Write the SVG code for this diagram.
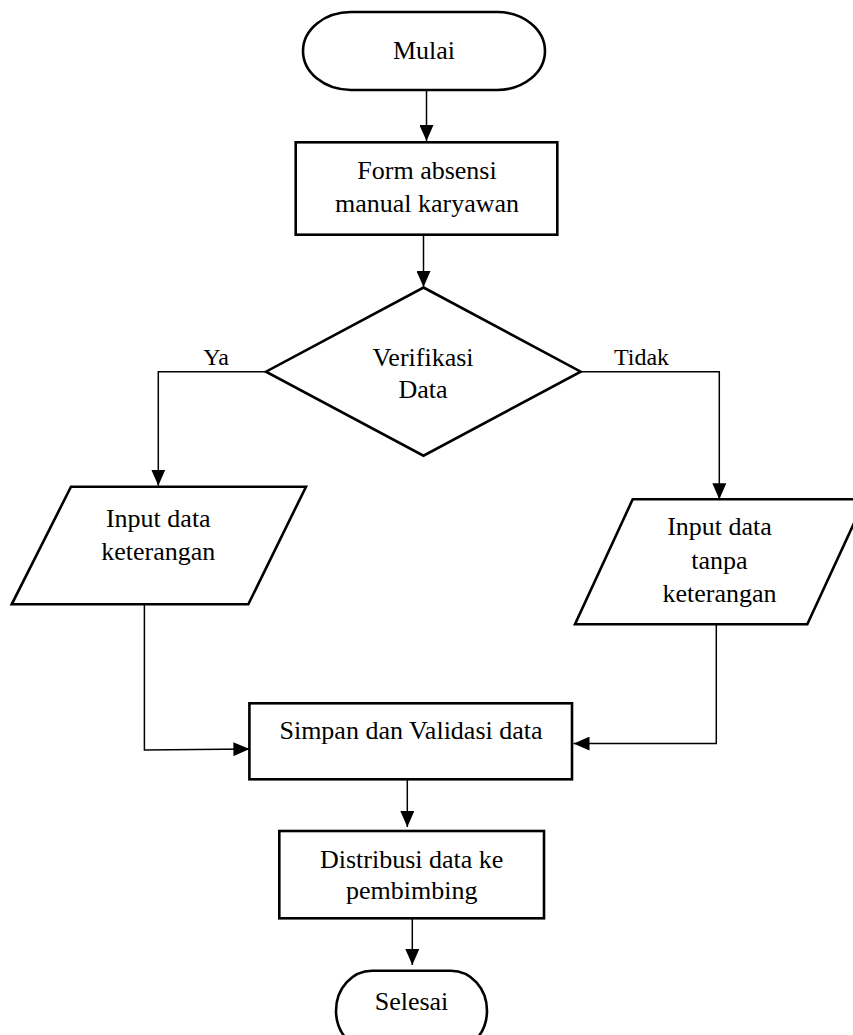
<svg xmlns="http://www.w3.org/2000/svg" width="853" height="1035" viewBox="0 0 853 1035">
<style>
.n{fill:#fff;stroke:#000;stroke-width:2.6}
.c{fill:none;stroke:#000;stroke-width:1.5}
text{font-family:"Liberation Serif","Times New Roman",serif;font-size:26px;fill:#000;text-anchor:middle}
</style>
<defs>
<marker id="ah" markerUnits="userSpaceOnUse" markerWidth="16" markerHeight="14" refX="16" refY="7" orient="auto">
<path d="M0,0 L16,7 L0,14 z" fill="#000"/>
</marker>
</defs>
<rect width="853" height="1035" fill="#fff"/>
<g id="connectors">
<line class="c" x1="426.5" y1="90" x2="426.5" y2="141" marker-end="url(#ah)"/>
<line class="c" x1="423.5" y1="235" x2="423.5" y2="287" marker-end="url(#ah)"/>
<polyline class="c" points="266,371.7 158.3,371.7 158.3,485.7" marker-end="url(#ah)"/>
<polyline class="c" points="580.7,371.7 719.3,371.7 719.3,499.3" marker-end="url(#ah)"/>
<polyline class="c" points="144.4,604.3 144.4,750 249.4,749" marker-end="url(#ah)"/>
<polyline class="c" points="716.3,624.3 716.3,743.6 573.5,743.6" marker-end="url(#ah)"/>
<line class="c" x1="407.3" y1="779.3" x2="407.3" y2="827" marker-end="url(#ah)"/>
<line class="c" x1="412.3" y1="918.3" x2="412.3" y2="965" marker-end="url(#ah)"/>
<text x="216" y="365" style="font-size:24px">Ya</text>
<text x="641.5" y="365" style="font-size:24px">Tidak</text>
</g>
<g id="mulai">
<rect class="n" x="303" y="12" width="242" height="78" rx="48" ry="39"/>
<text x="424" y="59">Mulai</text>
</g>
<g id="form">
<rect class="n" x="295.7" y="142.3" width="261.6" height="92.4"/>
<text x="427" y="179">Form absensi</text>
<text x="427" y="211.7">manual karyawan</text>
</g>
<g id="verifikasi">
<polygon class="n" points="423.5,287.5 580.7,371.7 423.5,455.7 266,371.7"/>
<text x="423" y="366">Verifikasi</text>
<text x="423" y="398.3">Data</text>
</g>
<g id="input-keterangan">
<polygon class="n" points="71,486.7 306,486.7 248.3,604.3 11.7,604.3"/>
<text x="158.3" y="527.3">Input data</text>
<text x="158.3" y="560">keterangan</text>
</g>
<g id="input-tanpa">
<polygon class="n" points="632.7,499.3 865,499.3 807.3,624.3 575,624.3"/>
<text x="719.5" y="535">Input data</text>
<text x="719.5" y="568.5">tanpa</text>
<text x="719.5" y="602">keterangan</text>
</g>
<g id="simpan">
<rect class="n" x="249.4" y="703.3" width="322.6" height="76"/>
<text x="411" y="739.3">Simpan dan Validasi data</text>
</g>
<g id="distribusi">
<rect class="n" x="279.3" y="831" width="264.7" height="87.3"/>
<text x="411.7" y="868.3">Distribusi data ke</text>
<text x="411.7" y="899">pembimbing</text>
</g>
<g id="selesai">
<rect class="n" x="336" y="970.7" width="151" height="80" rx="36" ry="40"/>
<text x="411.5" y="1010">Selesai</text>
</g>
</svg>
